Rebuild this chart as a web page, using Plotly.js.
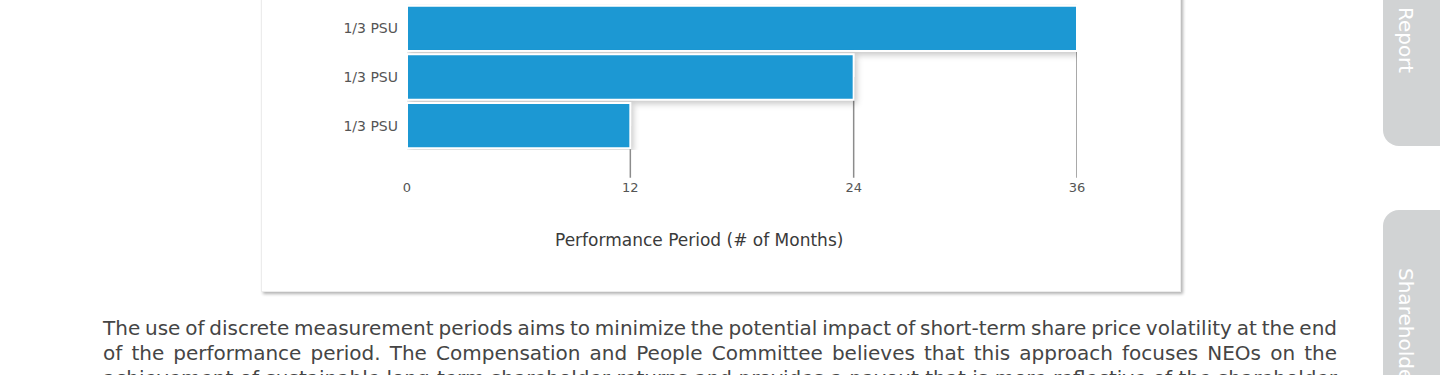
<!DOCTYPE html>
<html>
<head>
<meta charset="utf-8">
<script src="https://cdn.plot.ly/plotly-3.0.1.min.js"></script>
<style>
  html, body { margin:0; padding:0; width:1440px; height:375px; overflow:hidden; background:#ffffff; }
  #card { position:absolute; left:261px; top:-60px; width:918px; height:350px; background:#fff;
          border:1px solid #ececec; box-shadow: 2px 2px 3px rgba(0,0,0,0.30); }
  #chart { position:absolute; left:0; top:0; width:1440px; height:375px; }
  #chart .trace.bars path { filter: drop-shadow(2px 3px 3px rgba(0,0,0,0.22)); }
  #body { position:absolute; left:103px; top:316px; width:1234px; font-family:"DejaVu Sans", sans-serif;
          font-size:20px; line-height:25px; color:#454545; word-spacing:-2px; }
  #body div { text-align:justify; text-align-last:justify; }
  .tab { position:absolute; left:1383px; width:57px; background:#d1d3d4; }
  .tab span { position:absolute; left:11px; writing-mode:vertical-rl; color:#fff;
              font-family:"DejaVu Sans", sans-serif; font-size:20px; white-space:nowrap; }
</style>
</head>
<body>
<div id="card"></div>
<div id="chart"></div>
<div id="body">
  <div>The use of discrete measurement periods aims to minimize the potential impact of short-term share price volatility at the end</div>
  <div>of the performance period. The Compensation and People Committee believes that this approach focuses NEOs on the</div>
  <div>achievement of sustainable long-term shareholder returns and provides a payout that is more reflective of the shareholder</div>
</div>
<div class="tab" style="top:-100px;height:246px;border-bottom-left-radius:16px;"><span style="bottom:73px;">Annual Report</span></div>
<div class="tab" style="top:210px;height:200px;border-top-left-radius:16px;"><span style="top:58px;">Shareholder Engagement</span></div>
<script>
const categories = ['PSU tranche 1', 'PSU tranche 2', 'PSU tranche 3'];
const tickLabels = ['1/3 PSU', '1/3 PSU', '1/3 PSU'];
const months = [36, 24, 12];
const xTicks = [0, 12, 24, 36];
const axisTitle = 'Performance Period (# of Months)';

const barColor = '#1c98d3';
const fontFam = '"DejaVu Sans", sans-serif';

const shapes = months.map((m, i) => ({
  type: 'line', layer: 'below', xref: 'x', yref: 'paper',
  x0: m, x1: m, y0: 1 - (i + 0.5) / categories.length, y1: -0.19,
  line: { color: '#8c8c8c', width: 1.5 }
}));

const data = [{
  type: 'bar', orientation: 'h',
  x: months, y: categories,
  width: 0.93,
  marker: { color: barColor, line: { color: '#ffffff', width: 2 } },
  hoverinfo: 'x'
}];

const layout = {
  width: 1440, height: 375,
  margin: { l: 407, r: 363, t: 4, b: 225 },
  paper_bgcolor: 'rgba(0,0,0,0)', plot_bgcolor: 'rgba(0,0,0,0)',
  showlegend: false,
  font: { family: fontFam, color: '#555' },
  xaxis: {
    range: [0, 36], tickmode: 'array', tickvals: xTicks,
    showgrid: false, zeroline: false, showline: false, ticks: '',
    ticklabelstandoff: 28,
    tickfont: { size: 13, color: '#555', family: fontFam },
    fixedrange: true
  },
  yaxis: {
    type: 'category', categoryorder: 'array', categoryarray: categories,
    autorange: 'reversed', range: [2.5, -0.5],
    tickmode: 'array', tickvals: categories, ticktext: tickLabels,
    showgrid: false, zeroline: false, showline: false, ticks: '',
    ticklabelstandoff: 8,
    tickfont: { size: 14, color: '#555', family: fontFam },
    fixedrange: true
  },
  annotations: [{
    text: axisTitle, xref: 'paper', yref: 'paper', x: 0.436, y: -0.616,
    xanchor: 'center', yanchor: 'middle', showarrow: false,
    font: { size: 17, color: '#3a3a3a', family: fontFam }
  }],
  shapes: shapes
};

Plotly.newPlot('chart', data, layout, { displayModeBar: false, staticPlot: true });
</script>
</body>
</html>
